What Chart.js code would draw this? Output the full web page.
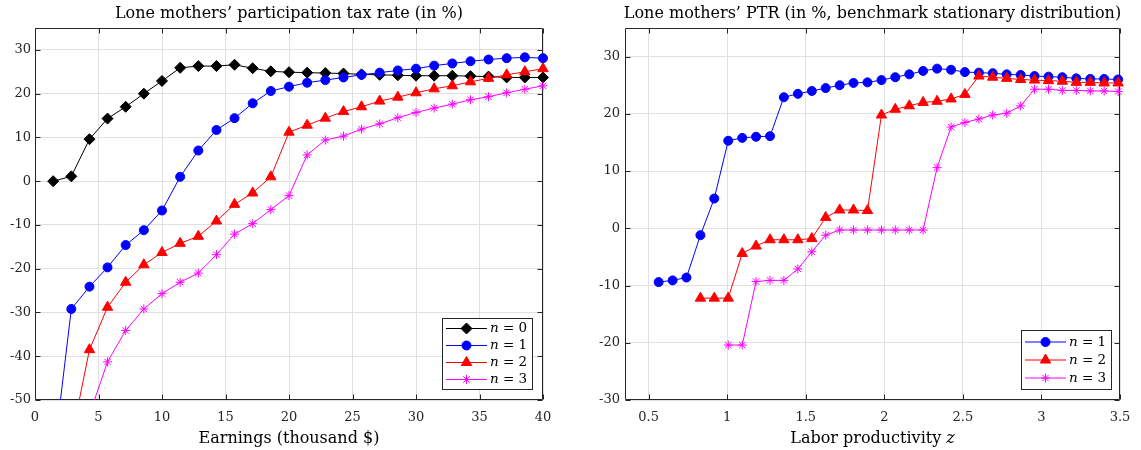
<!DOCTYPE html>
<html lang="en">
<head>
    <meta charset="UTF-8">
    <title>Lone mothers' participation tax rate</title>
    <script src="https://cdn.jsdelivr.net/npm/chart.js"></script>
    <style>
        body {
            margin: 0;
            background: #fff;
            width: 1141px;
            height: 450px;
            overflow: hidden;
            position: relative;
        }
        .panel {
            position: absolute;
            top: 0;
            height: 450px;
        }
        #leftPanel { left: 0; width: 570px; }
        #rightPanel { left: 580px; width: 561px; }
    </style>
</head>
<body>
    <div class="panel" id="leftPanel"><canvas id="ptrEarnings" width="570" height="450"></canvas></div>
    <div class="panel" id="rightPanel"><canvas id="ptrProductivity" width="561" height="450"></canvas></div>

    <script>
        // ---- left panel: PTR by earnings ----
        const earnings = [1.43, 2.86, 4.29, 5.71, 7.14, 8.57, 10.00, 11.43, 12.86, 14.29, 15.71, 17.14, 18.57, 20.00,
                          21.43, 22.86, 24.29, 25.71, 27.14, 28.57, 30.00, 31.43, 32.86, 34.29, 35.71, 37.14, 38.57, 40.00];
        const ptrN0 = [0.0, 1.1, 9.6, 14.3, 17.0, 20.0, 22.9, 25.9, 26.3, 26.3, 26.6, 25.8, 25.1, 24.9,
                       24.8, 24.7, 24.6, 24.4, 24.3, 24.2, 24.1, 24.1, 24.1, 24.0, 23.9, 23.7, 23.7, 23.7];
        const ptrN1 = [-64.0, -29.2, -24.1, -19.7, -14.6, -11.2, -6.7, 1.0, 7.0, 11.7, 14.4, 17.8, 20.6, 21.6,
                       22.5, 23.1, 23.7, 24.3, 24.8, 25.3, 25.7, 26.4, 26.9, 27.4, 27.8, 28.1, 28.3, 28.1];
        const ptrN2 = [null, -59.0, -38.5, -28.8, -23.1, -19.1, -16.3, -14.2, -12.6, -9.1, -5.3, -2.7, 1.0, 11.2,
                       12.8, 14.4, 15.9, 17.0, 18.3, 19.2, 20.2, 21.1, 21.8, 22.7, 23.5, 24.3, 25.0, 25.7];
        const ptrN3 = [null, null, -53.3, -41.3, -34.1, -29.2, -25.7, -23.1, -21.0, -16.8, -12.1, -9.7, -6.5, -3.3,
                       6.0, 9.4, 10.3, 11.9, 13.1, 14.5, 15.7, 16.7, 17.6, 18.6, 19.3, 20.2, 21.0, 21.8];
        const earningsTicks = [0, 5, 10, 15, 20, 25, 30, 35, 40];
        const leftPtrTicks = [-50, -40, -30, -20, -10, 0, 10, 20, 30];

        // ---- right panel: PTR by labor productivity (stationary distribution) ----
        const productivity = [0.564, 0.653, 0.741, 0.830, 0.918, 1.007, 1.096, 1.184, 1.273, 1.361, 1.450, 1.539,
                              1.627, 1.716, 1.804, 1.893, 1.982, 2.070, 2.159, 2.247, 2.336, 2.425, 2.513, 2.602,
                              2.690, 2.779, 2.868, 2.956, 3.045, 3.133, 3.222, 3.311, 3.399, 3.488];
        const statN1 = [-9.4, -9.1, -8.6, -1.2, 5.2, 15.3, 15.8, 16.0, 16.1, 22.9, 23.5, 24.0,
                        24.5, 25.0, 25.4, 25.5, 25.9, 26.4, 26.9, 27.5, 27.9, 27.7, 27.3, 27.2,
                        27.1, 26.9, 26.8, 26.6, 26.5, 26.4, 26.2, 26.1, 26.1, 26.0];
        const statN2 = [null, null, null, -12.2, -12.2, -12.2, -4.4, -3.1, -2.0, -2.0, -2.0, -1.8,
                        1.9, 3.2, 3.2, 3.1, 19.8, 20.8, 21.4, 22.0, 22.2, 22.6, 23.4, 26.6,
                        26.4, 26.2, 26.0, 25.9, 25.8, 25.7, 25.5, 25.5, 25.4, 25.4];
        const statN3 = [null, null, null, null, null, -20.4, -20.4, -9.3, -9.1, -9.1, -7.1, -4.1,
                        -1.2, -0.3, -0.3, -0.3, -0.3, -0.3, -0.3, -0.3, 10.6, 17.7, 18.5, 19.1,
                        19.8, 20.1, 21.4, 24.3, 24.3, 24.1, 24.1, 24.0, 24.0, 23.9];
        const productivityTicks = [0.5, 1, 1.5, 2, 2.5, 3, 3.5];
        const rightPtrTicks = [-30, -20, -10, 0, 10, 20, 30];

        const serif = '"DejaVu Serif", "Liberation Serif", serif';
        const axisColor = '#262626';
        const gridColor = '#e0e0e0';

        // series styles (MATLAB-like markers)
        const styles = {
            'n = 0': { color: '#000000', pointStyle: 'rectRot', radius: 5.5 },
            'n = 1': { color: '#0000ff', pointStyle: 'circle', radius: 4.5 },
            'n = 2': { color: '#ff0000', pointStyle: 'triangle', radius: 6 },
            'n = 3': { color: '#ff00ff', pointStyle: 'star', radius: 4.5 }
        };

        function makeDataset(label, xs, ys, order) {
            const s = styles[label];
            return {
                label: label,
                data: xs.map((x, i) => ({ x: x, y: ys[i] })),
                borderColor: s.color,
                backgroundColor: s.color,
                pointBackgroundColor: s.color,
                pointBorderColor: s.color,
                pointStyle: s.pointStyle,
                pointRadius: s.radius,
                pointBorderWidth: 1,
                borderWidth: 1,
                tension: 0,
                spanGaps: false,
                order: order,
                clip: { left: 10, top: 10, right: 10, bottom: 0 }
            };
        }

        // draw text where some pieces are italic (math symbols)
        function drawRich(ctx, parts, x, y, size, centered) {
            let total = 0;
            const widths = parts.map(p => {
                ctx.font = (p[1] ? 'italic ' : '') + size + 'px ' + serif;
                const w = ctx.measureText(p[0]).width;
                total += w;
                return w;
            });
            let cx = centered ? x - total / 2 : x;
            ctx.textAlign = 'left';
            ctx.textBaseline = 'middle';
            parts.forEach((p, i) => {
                ctx.font = (p[1] ? 'italic ' : '') + size + 'px ' + serif;
                ctx.fillText(p[0], cx, y);
                cx += widths[i];
            });
            return total;
        }
        function mathLabel(label) {
            return [[label.slice(0, 1), true], [label.slice(1), false]];
        }

        // box, inward ticks, titles and inset legend
        const matlabAxes = {
            id: 'matlabAxes',
            beforeDatasetsDraw(chart) {
                const { ctx, chartArea: a, scales: { x, y } } = chart;
                const L = Math.round(a.left) + 0.5, R = Math.round(a.right) - 0.5;
                const T = Math.round(a.top) + 0.5, B = Math.round(a.bottom) - 0.5;
                ctx.save();
                ctx.strokeStyle = axisColor;
                ctx.lineWidth = 1;
                ctx.beginPath();
                ctx.rect(L, T, R - L, B - T);
                x.ticks.forEach(t => {
                    const px = Math.round(x.getPixelForValue(t.value)) + 0.5;
                    ctx.moveTo(px, B); ctx.lineTo(px, B - 5);
                    ctx.moveTo(px, T); ctx.lineTo(px, T + 5);
                });
                y.ticks.forEach(t => {
                    const py = Math.round(y.getPixelForValue(t.value)) + 0.5;
                    ctx.moveTo(L, py); ctx.lineTo(L + 5, py);
                    ctx.moveTo(R, py); ctx.lineTo(R - 5, py);
                });
                ctx.stroke();
                ctx.restore();
            },
            afterDraw(chart, args, opts) {
                const { ctx, chartArea: a } = chart;
                const mid = (a.left + a.right) / 2;
                ctx.save();
                ctx.fillStyle = '#000';
                drawRich(ctx, [[opts.title, false]], mid, 14, 16, true);
                drawRich(ctx, opts.xTitle, mid, opts.xTitleY, 16, true);

                // legend
                const sets = chart.data.datasets;
                const fs = 13.5;
                let textW = 0;
                sets.forEach(ds => {
                    let w = 0;
                    mathLabel(ds.label).forEach(p => {
                        ctx.font = (p[1] ? 'italic ' : '') + fs + 'px ' + serif;
                        w += ctx.measureText(p[0]).width;
                    });
                    textW = Math.max(textW, w);
                });
                const w = 48 + textW + 5;
                const h = sets.length * opts.rowH + 2 * opts.padY;
                const x1 = Math.round(a.right - opts.insetRight) + 0.5;
                const y1 = Math.round(a.bottom - opts.insetBottom) + 0.5;
                const x0 = Math.round(x1 - w), y0 = Math.round(y1 - h);
                ctx.fillStyle = '#fff';
                ctx.fillRect(x0, y0, x1 - x0, y1 - y0);
                ctx.strokeStyle = axisColor;
                ctx.lineWidth = 1;
                ctx.strokeRect(x0 + 0.5, y0 + 0.5, x1 - x0 - 0.5, y1 - y0 - 0.5);
                sets.forEach((ds, i) => {
                    const cy = y0 + opts.padY + opts.rowH * (i + 0.5);
                    ctx.strokeStyle = ds.borderColor;
                    ctx.fillStyle = ds.pointBackgroundColor;
                    ctx.lineWidth = 1;
                    ctx.beginPath();
                    ctx.moveTo(x0 + 4, cy);
                    ctx.lineTo(x0 + 45, cy);
                    ctx.stroke();
                    if (Chart.helpers && Chart.helpers.drawPoint) {
                        Chart.helpers.drawPoint(ctx, { pointStyle: ds.pointStyle, radius: ds.pointRadius, rotation: 0, borderWidth: 1 }, x0 + 24.5, cy);
                    }
                    ctx.fillStyle = '#000';
                    drawRich(ctx, mathLabel(ds.label), x0 + 48, cy, fs, false);
                });
                ctx.restore();
            }
        };

        function axisOptions(min, max, tickList, fit, pad, fmt) {
            return {
                type: 'linear',
                min: min,
                max: max,
                afterBuildTicks: s => { s.ticks = tickList.map(v => ({ value: v })); },
                afterFit: fit,
                grid: { color: gridColor, drawTicks: false },
                border: { display: false },
                ticks: {
                    color: '#262626',
                    font: { family: serif, size: 13 },
                    padding: pad,
                    maxRotation: 0,
                    autoSkip: false,
                    callback: fmt
                }
            };
        }

        function makeChart(id, datasets, xAxis, yAxis, padRight, extra) {
            return new Chart(document.getElementById(id), {
                type: 'line',
                data: { datasets: datasets },
                options: {
                    responsive: false,
                    animation: false,
                    layout: { padding: { left: 0, right: padRight, top: 28, bottom: 0 } },
                    scales: { x: xAxis, y: yAxis },
                    plugins: {
                        legend: { display: false },
                        tooltip: { enabled: false },
                        matlabAxes: extra
                    }
                },
                plugins: [matlabAxes]
            });
        }

        makeChart('ptrEarnings',
            [
                makeDataset('n = 0', earnings, ptrN0, 4),
                makeDataset('n = 1', earnings, ptrN1, 3),
                makeDataset('n = 2', earnings, ptrN2, 2),
                makeDataset('n = 3', earnings, ptrN3, 1)
            ],
            axisOptions(0, 40, earningsTicks, s => { s.height = 50; }, 10, v => String(v)),
            axisOptions(-50, 35, leftPtrTicks, s => { s.width = 35; }, 4, v => String(v)),
            27,
            {
                title: 'Lone mothers\u2019 participation tax rate (in %)',
                xTitle: [['Earnings (thousand $)', false]], xTitleY: 439,
                rowH: 17, padY: 2, insetRight: 11, insetBottom: 11
            }
        );

        makeChart('ptrProductivity',
            [
                makeDataset('n = 1', productivity, statN1, 3),
                makeDataset('n = 2', productivity, statN2, 2),
                makeDataset('n = 3', productivity, statN3, 1)
            ],
            axisOptions(0.35, 3.5, productivityTicks, s => { s.height = 50; }, 10, v => String(v)),
            axisOptions(-30, 35, rightPtrTicks, s => { s.width = 45; }, 5, v => String(v)),
            21,
            {
                title: 'Lone mothers\u2019 PTR (in %, benchmark stationary distribution)',
                xTitle: [['Labor productivity ', false], ['z', true]], xTitleY: 439,
                rowH: 18, padY: 3, insetRight: 9, insetBottom: 11
            }
        );
    </script>
</body>
</html>
